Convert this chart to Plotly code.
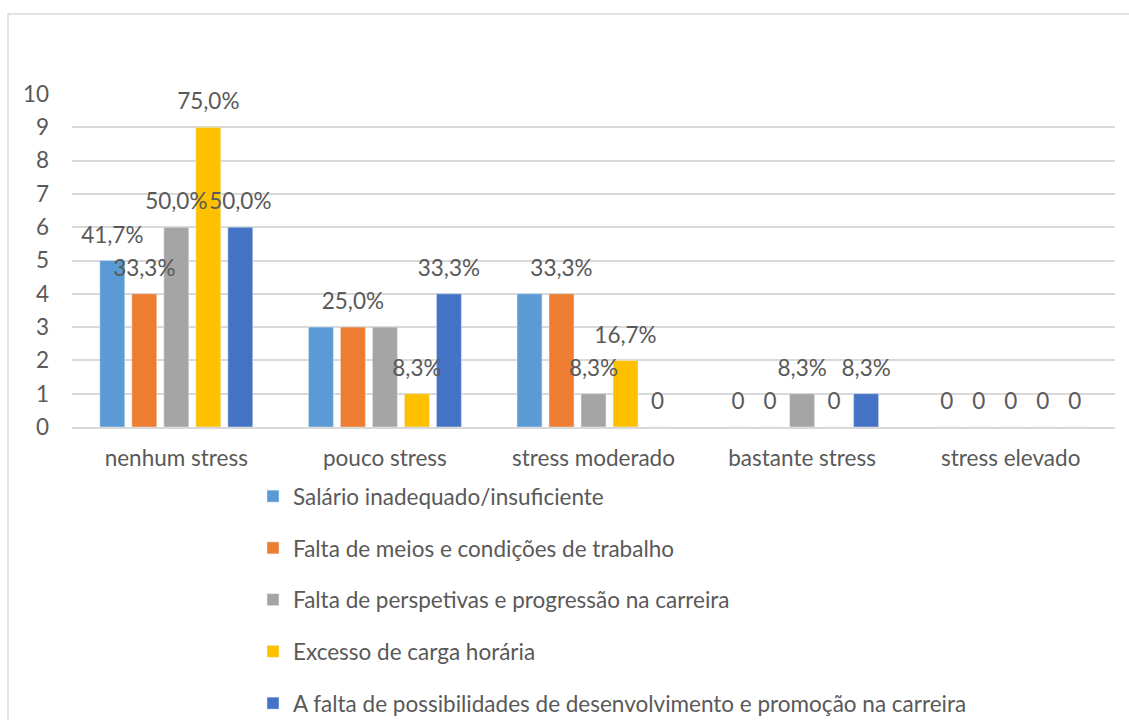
import plotly.graph_objects as go

categories = ["nenhum stress", "pouco stress", "stress moderado", "bastante stress", "stress elevado"]

series_names = [
    "Salário inadequado/insuficiente",
    "Falta de meios e condições de trabalho",
    "Falta de perspetivas e progressão na carreira",
    "Excesso de carga horária",
    "A falta de possibilidades de desenvolvimento e promoção na carreira",
]

salario = [5, 3, 4, 0, 0]
meios = [4, 3, 4, 0, 0]
perspetivas = [6, 3, 1, 1, 0]
carga = [9, 1, 2, 0, 0]
desenvolvimento = [6, 4, 0, 1, 0]

salario_labels = ["41,7%", "", "", "0", "0"]
meios_labels = ["33,3%", "25,0%", "33,3%", "0", "0"]
perspetivas_labels = ["50,0%", "", "8,3%", "8,3%", "0"]
carga_labels = ["75,0%", "8,3%", "16,7%", "0", "0"]
desenvolvimento_labels = ["50,0%", "33,3%", "0", "8,3%", "0"]

colors = ["#5B9BD5", "#ED7D31", "#A5A5A5", "#FFC000", "#4472C4"]

values = [salario, meios, perspetivas, carga, desenvolvimento]
labels = [salario_labels, meios_labels, perspetivas_labels, carga_labels, desenvolvimento_labels]

FONT = "Lato"
TXT = "#595959"
FS = 22.5

fig = go.Figure()
for i, (name, vals, col) in enumerate(zip(series_names, values, colors)):
    fig.add_trace(go.Bar(
        x=categories, y=vals, name=name, marker_color=col,
        legendgroup=f"g{i}", hoverinfo="y",
    ))
for i, (vals, labs) in enumerate(zip(values, labels)):
    fig.add_trace(go.Scatter(
        x=categories, y=vals, text=labs, mode="markers+text",
        textposition="top center", marker=dict(size=18, opacity=0),
        textfont=dict(family=FONT, size=FS, color=TXT),
        showlegend=False, hoverinfo="skip", cliponaxis=False,
    ))

W, H = 1129, 720
ml, mr, mt, mb = 72, 14, 94, 293
pw = W - ml - mr
ph = H - mt - mb

fig.update_layout(
    width=W, height=H,
    margin=dict(l=ml, r=mr, t=mt, b=mb, autoexpand=False),
    barmode="group", bargap=0.233, bargroupgap=0.22,
    scattermode="group", scattergap=0.233,
    plot_bgcolor="white", paper_bgcolor="white",
    font=dict(family=FONT, size=FS, color=TXT),
    legend=dict(
        orientation="v", x=(253 - ml) / pw, xanchor="left",
        y=(mt + ph - 475) / ph, yanchor="top",
        traceorder="grouped", tracegroupgap=19.5,
        font=dict(family=FONT, size=FS, color=TXT),
        bgcolor="rgba(0,0,0,0)",
    ),
    xaxis=dict(showgrid=False, showline=True, linecolor="#D9D9D9", linewidth=1.5,
               ticks="", ticklabelstandoff=10, tickfont=dict(size=FS, color=TXT)),
    yaxis=dict(range=[0, 10], dtick=1, showgrid=True, gridcolor="#D9D9D9", gridwidth=1.5,
               zeroline=False, ticks="", ticklabelstandoff=22,
               tickfont=dict(size=FS, color=TXT)),
    shapes=[dict(type="rect", xref="paper", yref="paper",
                 x0=(8 - ml) / pw, x1=(W + 20 - ml) / pw,
                 y0=(mt + ph - (H + 20)) / ph, y1=(mt + ph - 14) / ph,
                 line=dict(color="#D9D9D9", width=1.5), layer="below")],
)

fig.write_html(
    "out.html",
    config={"displayModeBar": False},
    post_script="document.body.style.margin='0';document.body.style.overflow='hidden';",
)
